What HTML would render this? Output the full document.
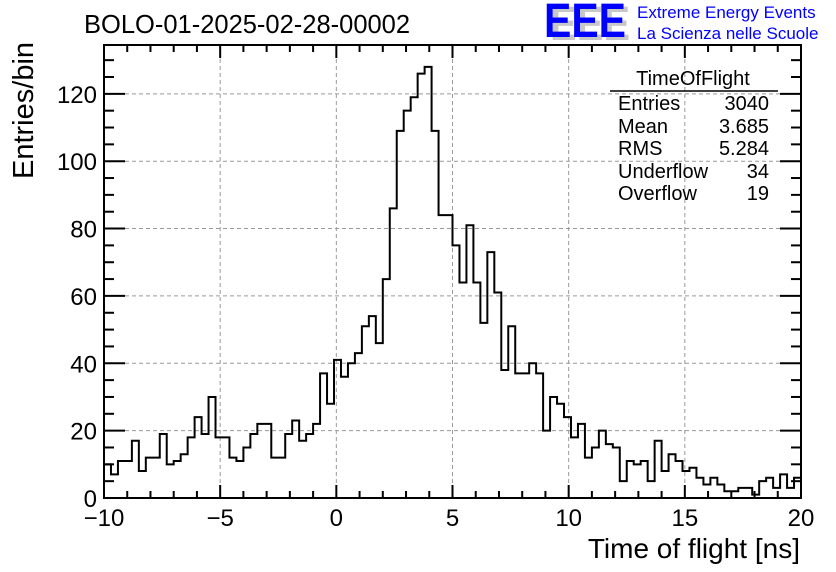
<!DOCTYPE html>
<html><head><meta charset="utf-8"><style>
body{margin:0;background:#fff}
svg{display:block;font-family:"Liberation Sans",Arial,sans-serif}
</style></head><body>
<svg id="c" width="836" height="572" viewBox="0 0 836 572">
<rect width="836" height="572" fill="#fff"/>
<text x="84" y="33" font-size="25.5">BOLO-01-2025-02-28-00002</text>
<g>
<text x="550" y="40" font-size="48" font-weight="bold" fill="#c8c8c8" textLength="80" lengthAdjust="spacingAndGlyphs">EEE</text>
<text x="544" y="37" font-size="48" font-weight="bold" fill="#0000ff" textLength="82" lengthAdjust="spacingAndGlyphs">EEE</text>
<text x="637" y="18" font-size="17" fill="#0000ff">Extreme Energy Events</text>
<text x="637" y="39" font-size="17" fill="#0000ff">La Scienza nelle Scuole</text>
</g>
<g id="grid"></g>
<g id="stats" font-size="20">
<text x="693" y="85" text-anchor="middle">TimeOfFlight</text>
<line x1="610" y1="91" x2="778" y2="91" stroke="#000" stroke-width="1.5"/>
<text x="618" y="110">Entries</text><text x="769" y="110" text-anchor="end">3040</text>
<text x="618" y="133">Mean</text><text x="769" y="133" text-anchor="end">3.685</text>
<text x="618" y="155">RMS</text><text x="769" y="155" text-anchor="end">5.284</text>
<text x="618" y="178">Underflow</text><text x="769" y="178" text-anchor="end">34</text>
<text x="618" y="200">Overflow</text><text x="769" y="200" text-anchor="end">19</text>
</g>
<path id="hist" fill="none" stroke="#000" stroke-width="2"/>
<g id="axes"></g>
<text x="800" y="558" font-size="28" text-anchor="end">Time of flight [ns]</text>
<text transform="translate(33,179) rotate(-90)" font-size="29" text-anchor="start">Entries/bin</text>
</svg>
<script>
const binValues=[10,7,11,11,17,8,12,12,19,10,11,13,18,24,19,30,18,18,12,11,15,19,22,22,12,12,19,23,17,19,22,37,28,41,36,40,43,51,54,46,65,86,109,115,119,126,128,109,84,84,75,64,81,64,52,73,61,38,51,37,37,40,37,20,30,28,24,18,22,12,15,20,16,15,5,11,10,11,5,17,8,13,11,8,9,6,4,6,4,2,2,3,3,1,5,6,3,7,3,6];
const xRange=[-10,20];
const yRange=[0,134.5];
const xTicks=[-10,-5,0,5,10,15,20];
const yTicks=[0,20,40,60,80,100,120];
const L=104,R=801,T=45,B=498;
const sx=v=>L+(v-xRange[0])/(xRange[1]-xRange[0])*(R-L);
const sy=v=>B-(v-yRange[0])/(yRange[1]-yRange[0])*(B-T);
const NS='http://www.w3.org/2000/svg';
function mk(tag,attrs,parent){const e=document.createElementNS(NS,tag);for(const k in attrs)e.setAttribute(k,attrs[k]);parent.appendChild(e);return e;}
const grid=document.getElementById('grid'),axes=document.getElementById('axes');
xTicks.forEach(t=>{if(t>xRange[0]&&t<xRange[1]){const g=mk('line',{x1:sx(t),x2:sx(t),y1:T,y2:B,stroke:'#999','stroke-dasharray':'4,3'},grid);

}});
yTicks.forEach(t=>{if(t>yRange[0]){const g=mk('line',{x1:L,x2:R,y1:sy(t),y2:sy(t),stroke:'#999','stroke-dasharray':'4,3'},grid);

}});
const bw=(xRange[1]-xRange[0])/binValues.length;
let d='M'+sx(xRange[0])+','+sy(binValues[0]);
binValues.forEach((v,i)=>{const x0=xRange[0]+i*bw;if(i>0)d+='L'+sx(x0)+','+sy(v);d+='L'+sx(x0+bw)+','+sy(v);});
document.getElementById('hist').setAttribute('d',d);
const fr=mk('rect',{x:L,y:T,width:R-L,height:B-T,fill:'none',stroke:'#000','stroke-width':2},axes);


for(let v=xRange[0];v<=xRange[1];v++){const maj=(v%5===0);const len=maj?13:7;
mk('line',{x1:sx(v),x2:sx(v),y1:B,y2:B-len,stroke:'#000','stroke-width':2},axes);
mk('line',{x1:sx(v),x2:sx(v),y1:T,y2:T+len,stroke:'#000','stroke-width':2},axes);}
for(let v=0;v<=yRange[1];v+=5){const maj=(v%20===0);const len=maj?21:10;
mk('line',{x1:L,x2:L+len,y1:sy(v),y2:sy(v),stroke:'#000','stroke-width':2},axes);
mk('line',{x1:R,x2:R-len,y1:sy(v),y2:sy(v),stroke:'#000','stroke-width':2},axes);}
xTicks.forEach(t=>{const e=mk('text',{x:sx(t),y:B+28,'font-size':24,'text-anchor':'middle'},axes);e.textContent=(t<0?'\u2212'+(-t):t);

});
yTicks.forEach(t=>{const e=mk('text',{x:L-7,y:sy(t)+9,'font-size':24,'text-anchor':'end'},axes);e.textContent=t;

});
</script>
</body></html>
